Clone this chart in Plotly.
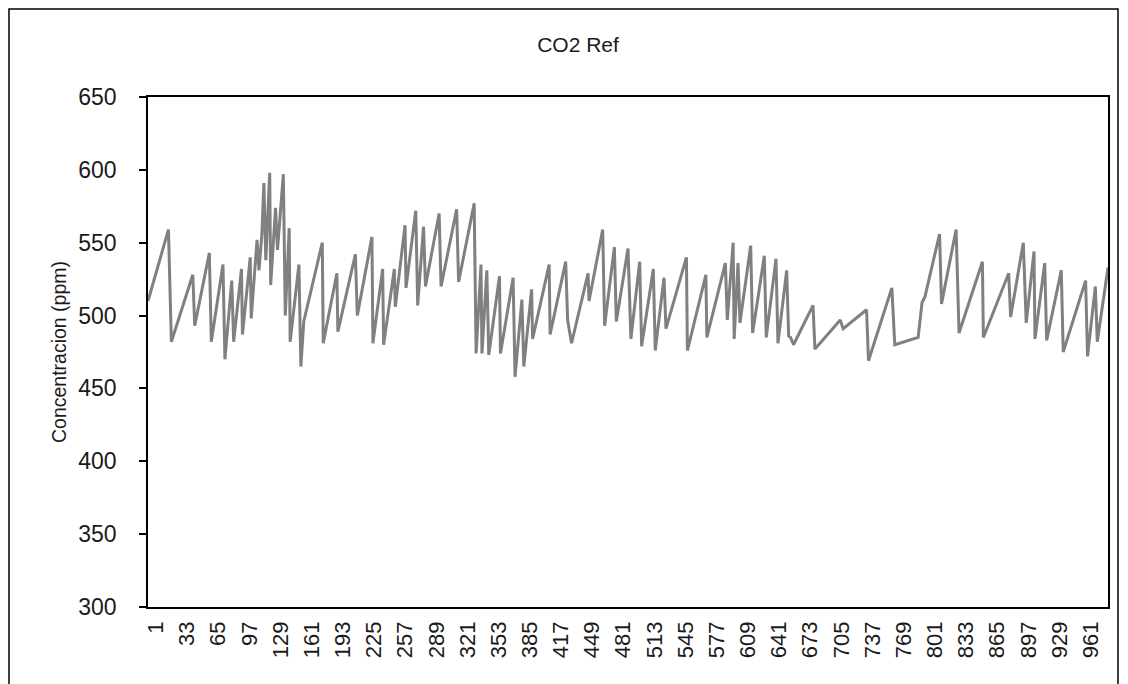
import plotly.graph_objects as go

# Vertices of the CO2 series (sample index, ppm)
sample_index = [
    1, 22, 25, 47, 49, 64, 66, 78, 80, 87, 89, 97, 98, 106, 107, 113, 115, 118, 120, 122,
    126, 127, 132, 134, 140, 142, 146, 147, 156, 158, 161, 180, 181, 195, 196, 214, 216, 231, 232, 242,
    243, 254, 255, 265, 266, 276, 278, 284, 286, 300, 302, 318, 320, 336, 338, 343, 344, 349, 351, 362,
    363, 376, 378, 385, 387, 395, 396, 413, 414, 430, 432, 436, 453, 454, 468, 470, 480, 482, 494, 497,
    506, 508, 520, 522, 531, 533, 554, 555, 574, 575, 594, 596, 602, 603, 607, 609, 620, 622, 634, 636,
    646, 648, 657, 659, 661, 664, 684, 686, 712, 715, 739, 741, 765, 768, 792, 796, 799, 814, 816, 831,
    834, 858, 859, 885, 887, 900, 903, 911, 912, 922, 924, 939, 941, 964, 966, 974, 976, 987,
]
co2_ppm = [
    510, 559, 482, 528, 493, 543, 482, 535, 470, 524, 482, 532, 487, 540, 498, 552, 531, 556, 591, 538,
    598, 521, 574, 545, 597, 500, 560, 482, 535, 465, 496, 550, 481, 529, 489, 542, 500, 554, 481, 532,
    480, 532, 506, 562, 519, 572, 507, 561, 520, 570, 520, 573, 523, 577, 474, 535, 474, 531, 473, 527,
    474, 526, 458, 511, 465, 518, 484, 535, 487, 537, 497, 481, 529, 510, 559, 493, 547, 496, 546, 484,
    537, 479, 532, 476, 526, 491, 540, 476, 528, 485, 536, 497, 550, 484, 536, 495, 548, 488, 541, 485,
    539, 481, 531, 486, 485, 480, 507, 477, 497, 491, 504, 469, 519, 480, 485, 509, 513, 556, 508, 559,
    488, 537, 485, 529, 499, 550, 495, 544, 484, 536, 483, 531, 475, 524, 472, 520, 482, 533,
]

n_samples = 987
tick_values = list(range(1, 962, 32))
tick_labels = [str(v) for v in tick_values]
y_ticks = [300, 350, 400, 450, 500, 550, 600, 650]

FONT = "Liberation Sans, Arial, sans-serif"
TXT = "#1a1a1a"

fig = go.Figure()
fig.add_trace(go.Scatter(
    x=sample_index, y=co2_ppm, mode="lines",
    line=dict(color="#808080", width=3),
    showlegend=False,
))

W, H = 1128, 684
L, R, T, B = 140, 28, 89, 85
pw, ph = W - L - R, H - T - B

fig.update_layout(
    width=W, height=H,
    margin=dict(l=L, r=R, t=T, b=B),
    paper_bgcolor="white", plot_bgcolor="white",
    font=dict(family=FONT, size=23, color=TXT),
    title=dict(text="CO2 Ref", x=570 / W, xref="container", xanchor="center",
               y=1 - 37 / H, yref="container", yanchor="middle",
               font=dict(family=FONT, size=21, color=TXT)),
    xaxis=dict(
        range=[1, n_samples],
        tickmode="array", tickvals=tick_values, ticktext=tick_labels,
        tickangle=-90, showgrid=False, zeroline=False,
        showline=True, linecolor="black", linewidth=1.5, mirror=True,
        ticks="", tickfont=dict(size=22, color=TXT),
        ticklabelshift=8, ticklabelstandoff=4,
    ),
    yaxis=dict(
        range=[300, 650], tickmode="array", tickvals=y_ticks,
        showgrid=False, zeroline=False,
        showline=True, linecolor="black", linewidth=1.5, mirror=True,
        ticks="outside", ticklen=7, tickcolor="black", tickwidth=1.5,
        ticklabelstandoff=18,
        title=dict(text="Concentracion (ppm)", standoff=6,
                   font=dict(size=19.5, color=TXT)),
        tickfont=dict(size=23, color=TXT),
    ),
)

# outer chart border (extends below the visible page, as in the reference)
x0 = (1 - L) / pw
x1 = (1110 - L) / pw
y1 = (H - B - 1) / ph
y0 = (H - B - 720) / ph
fig.add_shape(type="rect", xref="paper", yref="paper", x0=x0, x1=x1, y0=y0, y1=y1,
              line=dict(color="black", width=1.5), fillcolor="rgba(0,0,0,0)", layer="above")

fig.write_html("out.html")
